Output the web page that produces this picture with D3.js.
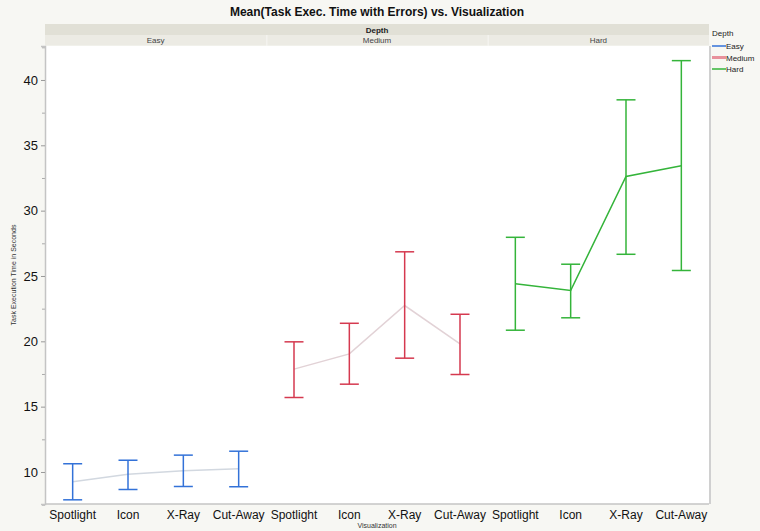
<!DOCTYPE html>
<html>
<head>
<meta charset="utf-8">
<script src="https://cdn.jsdelivr.net/npm/d3@7"></script>
<style>
  body { margin: 0; background: #f7f7f3; }
  svg { display: block; font-family: "Liberation Sans", Arial, sans-serif; }
</style>
</head>
<body>
<div id="chart-area"></div>
<script>
// data
var depths = ["Easy", "Medium", "Hard"];
var visualizations = ["Spotlight", "Icon", "X-Ray", "Cut-Away"];
var easyMean = [9.25, 9.83, 10.09, 10.24];
var easyLow = [7.87, 8.66, 8.89, 8.87];
var easyHigh = [10.63, 10.9, 11.29, 11.59];
var mediumMean = [17.87, 19.04, 22.74, 19.81];
var mediumLow = [15.7, 16.72, 18.71, 17.46];
var mediumHigh = [19.96, 21.38, 26.85, 22.07];
var hardMean = [24.4, 23.89, 32.61, 33.43];
var hardLow = [20.85, 21.8, 26.66, 25.42];
var hardHigh = [27.96, 25.9, 38.48, 41.48];
var yTicks = [10, 15, 20, 25, 30, 35, 40];

var series = [
  {depth: "Easy", mean: easyMean, low: easyLow, high: easyHigh, color: "#3372d8", lineColor: "#d2d8e0"},
  {depth: "Medium", mean: mediumMean, low: mediumLow, high: mediumHigh, color: "#d5394f", lineColor: "#e2d2d6"},
  {depth: "Hard", mean: hardMean, low: hardLow, high: hardHigh, color: "#34b43a", lineColor: "#34b43a"}
];

var W = 760, H = 531;
var margin = {left: 45, right: 51, top: 46, bottom: 27};
var width = W - margin.left - margin.right;
var height = H - margin.top - margin.bottom;

var svg = d3.select("#chart-area").append("svg")
    .attr("width", W)
    .attr("height", H);

var g = svg.append("g")
    .attr("transform", "translate(" + margin.left + "," + margin.top + ")");

// scales
var panel = d3.scaleBand().domain(depths).range([0, width]).padding(0);
var x = d3.scaleBand().domain(visualizations).range([0, panel.bandwidth()]).padding(0);
var y = d3.scaleLinear().domain([7.55, 42.6]).range([height, 0]);

// plot background
g.append("rect")
    .attr("width", width)
    .attr("height", height)
    .attr("fill", "#ffffff");

// header bands
g.append("rect")
    .attr("x", 0).attr("y", -22)
    .attr("width", width).attr("height", 11)
    .attr("fill", "#e1e0d6");
g.append("text")
    .attr("x", width / 2).attr("y", -13.5)
    .attr("text-anchor", "middle")
    .attr("font-size", "8px")
    .attr("font-weight", "bold")
    .attr("fill", "#222")
    .text("Depth");

g.selectAll(".strip")
    .data(depths)
    .enter().append("rect")
    .attr("class", "strip")
    .attr("x", d => panel(d) + (d === "Easy" ? 0 : 1))
    .attr("y", -11)
    .attr("width", d => panel.bandwidth() - (d === "Easy" ? 0 : 1))
    .attr("height", 10.5)
    .attr("fill", "#ecebe4");

g.selectAll(".strip-label")
    .data(depths)
    .enter().append("text")
    .attr("class", "strip-label")
    .attr("x", d => panel(d) + panel.bandwidth() / 2)
    .attr("y", -3)
    .attr("text-anchor", "middle")
    .attr("font-size", "8px")
    .attr("fill", "#444")
    .text(d => d);

// title
svg.append("text")
    .attr("x", margin.left + width / 2)
    .attr("y", 16)
    .attr("text-anchor", "middle")
    .attr("font-size", "12px")
    .attr("font-weight", "bold")
    .attr("fill", "#111")
    .text("Mean(Task Exec. Time with Errors) vs. Visualization");

// y axis with minor ticks
var minor = d3.range(7.5, 42.6, 2.5).filter(v => v % 5 !== 0);
g.append("g")
    .call(d3.axisLeft(y).tickValues(minor).tickSize(3).tickFormat(""))
    .call(a => a.select(".domain").remove())
    .selectAll("line").attr("stroke", "#aaa");

var leftAxis = g.append("g")
    .attr("class", "left axis")
    .call(d3.axisLeft(y).tickValues(yTicks).tickSize(4).tickPadding(3));
leftAxis.select(".domain").attr("stroke", "#c4c4c4").attr("stroke-width", 1.5);
leftAxis.selectAll(".tick line").attr("stroke", "#999");
leftAxis.selectAll("text")
    .attr("font-size", "13px")
    .attr("fill", "#111")
    .attr("font-family", "\"Liberation Sans\", Arial, sans-serif");

// x axis line
g.append("line")
    .attr("x1", 0).attr("x2", width)
    .attr("y1", height).attr("y2", height)
    .attr("stroke", "#c4c4c4")
    .attr("stroke-width", 1.5);

// x tick labels per panel
depths.forEach(function(dep) {
  var ax = g.append("g")
      .attr("transform", "translate(" + panel(dep) + "," + height + ")")
      .call(d3.axisBottom(x).tickSize(0).tickPadding(6));
  ax.select(".domain").remove();
  ax.selectAll("text")
      .attr("font-size", "12px")
      .attr("fill", "#111")
      .attr("font-family", "\"Liberation Sans\", Arial, sans-serif");
});

// right separator
g.append("line")
    .attr("x1", width + 1).attr("x2", width + 1)
    .attr("y1", 0).attr("y2", height)
    .attr("stroke", "#d0d0d0")
    .attr("stroke-width", 2);

// axis titles
svg.append("text")
    .attr("x", margin.left + width / 2)
    .attr("y", 528)
    .attr("text-anchor", "middle")
    .attr("font-size", "7px")
    .attr("fill", "#333")
    .text("Visualization");

svg.append("text")
    .attr("transform", "translate(16," + (margin.top + height / 2) + ") rotate(-90)")
    .attr("text-anchor", "middle")
    .attr("font-size", "7px")
    .attr("fill", "#333")
    .text("Task Execution Time in Seconds");

// mean lines and error bars
var cap = 9.5;
series.forEach(function(s) {
  var px = d => panel(s.depth) + x(d) + x.bandwidth() / 2;
  var pts = visualizations.map((v, i) => [px(v), y(s.mean[i])]);

  g.append("path")
      .datum(pts)
      .attr("fill", "none")
      .attr("stroke", s.lineColor)
      .attr("stroke-width", 1.5)
      .attr("d", d3.line());

  var bars = g.selectAll(".bar-" + s.depth)
      .data(visualizations)
      .enter().append("g")
      .attr("class", "bar-" + s.depth);

  bars.append("line")
      .attr("x1", d => px(d)).attr("x2", d => px(d))
      .attr("y1", (d, i) => y(s.low[i]))
      .attr("y2", (d, i) => y(s.high[i]))
      .attr("stroke", s.color)
      .attr("stroke-width", 1.5);
  bars.append("line")
      .attr("x1", d => px(d) - cap).attr("x2", d => px(d) + cap)
      .attr("y1", (d, i) => y(s.high[i])).attr("y2", (d, i) => y(s.high[i]))
      .attr("stroke", s.color)
      .attr("stroke-width", 1.5);
  bars.append("line")
      .attr("x1", d => px(d) - cap).attr("x2", d => px(d) + cap)
      .attr("y1", (d, i) => y(s.low[i])).attr("y2", (d, i) => y(s.low[i]))
      .attr("stroke", s.color)
      .attr("stroke-width", 1.5);
});

// legend
var legend = svg.append("g")
    .attr("transform", "translate(712,33)");
legend.append("text")
    .attr("x", 0).attr("y", 3)
    .attr("font-size", "8px")
    .attr("fill", "#222")
    .text("Depth");
var legendColors = ["#3372d8", "#e8919c", "#34b43a"];
var items = legend.selectAll(".item")
    .data(depths)
    .enter().append("g")
    .attr("class", "item")
    .attr("transform", (d, i) => "translate(0," + (13 + i * 11.5) + ")");
items.append("line")
    .attr("x1", 0).attr("x2", 14)
    .attr("y1", 0).attr("y2", 0)
    .attr("stroke", (d, i) => legendColors[i])
    .attr("stroke-width", (d, i) => i === 1 ? 3 : 1.5);
items.append("text")
    .attr("x", 14).attr("y", 3)
    .attr("font-size", "8px")
    .attr("fill", "#222")
    .text(d => d);
</script>
</body>
</html>
